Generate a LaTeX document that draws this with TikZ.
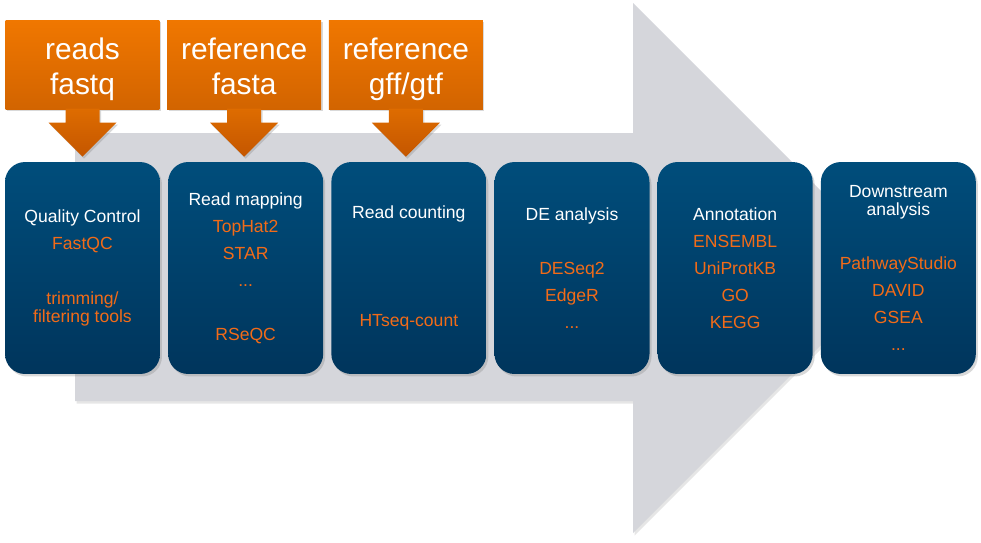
\documentclass[tikz,border=0pt]{standalone}
\usepackage{fontspec}
\setmainfont{Liberation Sans}
\usetikzlibrary{positioning, shadows}
\definecolor{pipegray}{RGB}{213,214,219}
\definecolor{stagetop}{RGB}{0,77,123}
\definecolor{stagebot}{RGB}{0,53,92}
\definecolor{srctop}{RGB}{240,119,0}
\definecolor{srcbot}{RGB}{210,100,0}
\definecolor{feedtop}{RGB}{222,108,0}
\definecolor{feedbot}{RGB}{196,86,0}
\definecolor{toolorange}{RGB}{242,107,24}
\newcommand{\tool}[1]{{\color{toolorange}#1}}
\newcommand{\srctext}[2]{\rule{0pt}{19pt}#1\\#2\rule[-5pt]{0pt}{5pt}}
\tikzset{
    stage/.style={rectangle, rounded corners=0.4cm, minimum width=3.1cm, minimum height=4.24cm,
        top color=stagetop, bottom color=stagebot, text=white, align=center,
        font=\fontsize{10}{15.4}\selectfont,
        drop shadow={opacity=0.3, shadow xshift=0.04cm, shadow yshift=-0.05cm}},
    source/.style={rectangle, minimum width=3.08cm, minimum height=1.76cm,
        top color=srctop, bottom color=srcbot, text=white, align=center,
        font=\fontsize{17}{20}\selectfont,
        drop shadow={opacity=0.3, shadow xshift=0.03cm, shadow yshift=-0.04cm}},
    feed/.style={top color=feedtop, bottom color=feedbot,
        drop shadow={opacity=0.3, shadow xshift=0.03cm, shadow yshift=-0.04cm}},
    pipe/.style={fill=pipegray,
        drop shadow={opacity=0.2, shadow xshift=0.03cm, shadow yshift=-0.05cm}}
}
\begin{document}
\begin{tikzpicture}[x=0.02cm, y=-0.02cm]
    \useasboundingbox (0,0) rectangle (981,542);

    % Big gray arrow behind the pipeline
    \path[pipe] (75,133) -- (633,133) -- (633,3) -- (898,268) -- (633,533) -- (633,401) -- (75,401) -- cycle;

    % Pipeline stages
    \node[stage] (qc) at (82.5,268) {Quality Control\\\tool{FastQC}\\[15.4pt]\tool{trimming/}\\[-5pt]\tool{filtering tools}};
    \node[stage, right=0.15cm of qc] (map) {Read mapping\\\tool{TopHat2}\\\tool{STAR}\\\tool{...}\\[15.4pt]\tool{RSeQC}};
    \node[stage, right=0.15cm of map] (count) {Read counting\\[46.2pt]\tool{HTseq-count}};
    \node[stage, right=0.15cm of count] (de) {DE analysis\\[15.4pt]\tool{DESeq2}\\\tool{EdgeR}\\\tool{...}};
    \node[stage, right=0.15cm of de] (annot) {Annotation\\\tool{ENSEMBL}\\\tool{UniProtKB}\\\tool{GO}\\\tool{KEGG}};
    \node[stage, right=0.15cm of annot] (down) {Downstream\\[-5pt]analysis\\[15.4pt]\tool{PathwayStudio}\\\tool{DAVID}\\\tool{GSEA}\\\tool{...}};

    % Input files
    \node[source, above=1.04cm of qc] (reads) {\srctext{reads}{fastq}};
    \node[source, right=0.14cm of reads] (fasta) {\srctext{reference}{fasta}};
    \node[source, right=0.14cm of fasta] (gtf) {\srctext{reference}{gff/gtf}};

    % Feeding arrows
    \foreach \src in {reads, fasta, gtf}
        \path[feed] (\src.south) ++(-17,-1) -- ++(0,14) -- ++(-17,0) -- ++(34,34) -- ++(34,-34) -- ++(-17,0) -- ++(0,-14) -- cycle;

\end{tikzpicture}
\end{document}
